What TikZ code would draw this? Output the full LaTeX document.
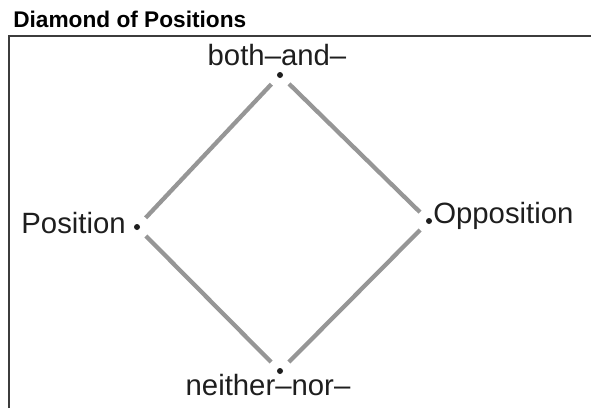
\documentclass[tikz,border=0pt]{standalone}
\usepackage{fontspec}
\setmainfont{Liberation Sans}
\usepackage{tikz}
\usetikzlibrary{positioning}
\definecolor{mygrey}{RGB}{150,150,150}
\definecolor{myframe}{RGB}{60,60,60}
\definecolor{mydark}{RGB}{30,30,30}
\tikzset{
  pt/.style={circle, fill=mydark, inner sep=0pt, minimum size=4.5pt},
  lbl/.style={inner sep=0pt, font=\fontsize{22}{25}\selectfont, text=mydark},
  edge/.style={line width=3.2pt, color=mygrey, shorten <=7pt, shorten >=7pt}
}
\begin{document}
\begin{tikzpicture}[x=0.75pt, y=-0.75pt]
  \useasboundingbox (0,0) rectangle (591,408);
  % Title and frame
  \node[anchor=base west, inner sep=0pt, font=\bfseries\fontsize{17}{20}\selectfont] (title) at (13,27) {Diamond of Positions};
  \draw[myframe, line width=0.9pt] (9,408) |- (591,36);

  % Corner points
  \node[pt] (top) at (280,75) {};
  \node[pt] (left) at (137,227) {};
  \node[pt] (right) at (429,221) {};
  \node[pt] (bottom) at (280,371) {};

  % Labels
  \node[lbl, anchor=base] (both) at (277,65) {both–and–};
  \node[lbl, anchor=base east] (pos) at (126,233) {Position};
  \node[lbl, anchor=base west] (opp) at (433,223) {Opposition};
  \node[lbl, anchor=base] (neither) at (268,395) {neither–nor–};

  % Diamond
  \draw[edge] (left) -- (top);
  \draw[edge] (top) -- (right);
  \draw[edge] (right) -- (bottom);
  \draw[edge] (bottom) -- (left);
\end{tikzpicture}
\end{document}
